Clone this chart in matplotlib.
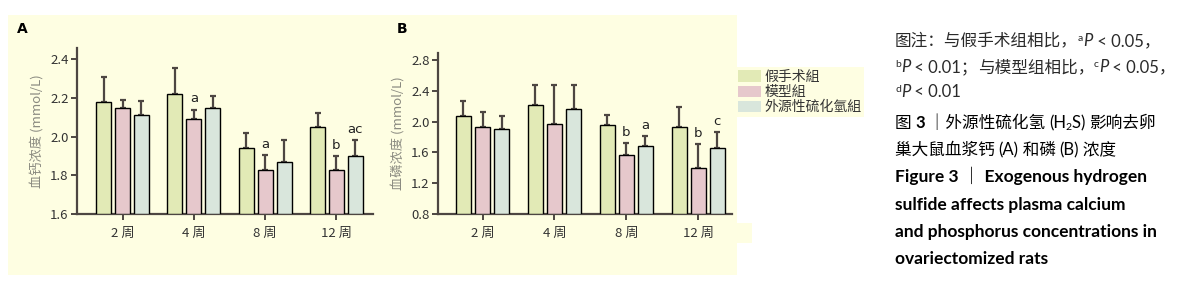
import matplotlib
matplotlib.use('Agg')
import numpy as np
import matplotlib.pyplot as plt
from matplotlib.patches import Rectangle, Patch

plt.rcParams['font.family'] = ['Noto Sans CJK SC', 'DejaVu Sans']

weeks = ['2 周', '4 周', '8 周', '12 周']
groups = ['假手术組', '模型組', '外源性硫化氫組']

# plasma calcium (A), mmol/L
ca_mean = [[2.18, 2.22, 1.94, 2.05],
           [2.15, 2.09, 1.83, 1.83],
           [2.11, 2.15, 1.87, 1.90]]
ca_err = [[0.13, 0.135, 0.08, 0.07],
          [0.04, 0.05, 0.075, 0.07],
          [0.075, 0.06, 0.115, 0.08]]
ca_marks = [['', '', '', ''],
            ['', 'a', 'a', 'b'],
            ['', '', '', 'ac']]

# plasma phosphorus (B), mmol/L
p_mean = [[2.07, 2.22, 1.96, 1.93],
          [1.93, 1.97, 1.57, 1.40],
          [1.90, 2.16, 1.68, 1.66]]
p_err = [[0.20, 0.26, 0.12, 0.26],
         [0.20, 0.51, 0.15, 0.31],
         [0.17, 0.31, 0.13, 0.21]]
p_marks = [['', '', '', ''],
           ['', '', 'b', 'b'],
           ['', '', 'a', 'c']]

BAR_COLORS = ['#e2eab6', '#e6c8cc', '#d9e6dc']
BG = '#fefee2'
AXIS_COLOR = '#4d4642'

W, H = 1192, 300
fig = plt.figure(figsize=(W / 100, H / 100), dpi=100)
fig.patch.set_facecolor('white')

# yellow panel background
fig.add_artist(Rectangle((8 / W, 1 - 275 / H), 729 / W, 260 / H, transform=fig.transFigure,
                         facecolor=BG, edgecolor='none', zorder=0))
fig.add_artist(Rectangle((700 / W, 1 - 243 / H), 52 / W, 20 / H, transform=fig.transFigure,
                         facecolor=BG, edgecolor='none', zorder=0))


def draw_panel(rect, means, errs, marks, ylim, yticks, ylabel, xlim, letter, letter_x):
    ax = fig.add_axes(rect)
    ax.set_facecolor('none')
    x = np.arange(len(weeks))
    width = 0.21
    step = 0.266
    for i in range(3):
        pos = x + (i - 1) * step
        ax.bar(pos, np.array(means[i]) - ylim[0], width, bottom=ylim[0], color=BAR_COLORS[i],
               edgecolor='black', linewidth=1.0, zorder=3)
        ax.errorbar(pos, means[i], yerr=[np.zeros(4), errs[i]], fmt='none', ecolor=AXIS_COLOR,
                    elinewidth=1.6, capsize=2.5, capthick=1.6, zorder=2)
        for j in range(4):
            if marks[i][j]:
                ax.text(pos[j], means[i][j] + errs[i][j] + (ylim[1] - ylim[0]) * 0.025, marks[i][j],
                        ha='center', va='bottom', fontsize=9.5, color='#222222',
                        family=['DejaVu Sans'])
    ax.set_xlim(*xlim)
    ax.set_ylim(*ylim)
    ax.set_yticks(yticks)
    ax.set_yticklabels([f'{v:.1f}' for v in yticks])
    ax.set_xticks(x)
    ax.set_xticklabels(weeks)
    ax.spines['top'].set_visible(False)
    ax.spines['right'].set_visible(False)
    for s in ['left', 'bottom']:
        ax.spines[s].set_color(AXIS_COLOR)
        ax.spines[s].set_linewidth(1.6)
    ax.tick_params(axis='both', colors=AXIS_COLOR, length=4, width=1.4, labelcolor='#333333',
                   labelsize=9.5, pad=2)
    ax.tick_params(axis='x', pad=5)
    ax.set_ylabel(ylabel, fontsize=9.5, color='#8a8a80', labelpad=4)
    fig.text(letter_x / W, 1 - 29 / H, letter, fontsize=10, weight='bold', ha='left', va='center',
             family=['DejaVu Sans'])
    return ax


draw_panel([77 / W, 1 - 214 / H, 296 / W, 166 / H], ca_mean, ca_err, ca_marks,
           (1.6, 2.458), [1.6, 1.8, 2.0, 2.2, 2.4], '血钙浓度 (mmol/L)', (-0.638, 3.512), 'A', 17)
draw_panel([438 / W, 1 - 214 / H, 294 / W, 161 / H], p_mean, p_err, p_marks,
           (0.8, 2.891), [0.8, 1.2, 1.6, 2.0, 2.4, 2.8], '血磷浓度 (mmol/L)', (-0.62, 3.47), 'B', 397)

handles = [Patch(facecolor=c, edgecolor='none') for c in BAR_COLORS]
leg = fig.legend(handles, groups, loc='upper left', bbox_to_anchor=(735 / W, 1 - 67 / H),
                 frameon=True, facecolor=BG, edgecolor='none', fancybox=False, framealpha=1,
                 fontsize=10, handlelength=1.7, handleheight=0.85, handletextpad=0.2,
                 labelspacing=0.08, borderpad=0.2, borderaxespad=0)
for t in leg.get_texts():
    t.set_color('#333333')

# caption on the right
renderer = fig.canvas.get_renderer()
ZH = ['Noto Sans CJK SC', 'DejaVu Sans']
LAT = ['Lato', 'Noto Sans CJK SC', 'DejaVu Sans']
FS = 12


def put_line(x0, y, pieces):
    x = x0 / W
    for text, kw in pieces:
        opts = dict(fontsize=FS, color='#2a2a2a', va='baseline', ha='left', family=ZH)
        opts.update(kw)
        dy = opts.pop('dy', 0)
        t = fig.text(x, 1 - (y - dy) / H, text, **opts)
        x += t.get_window_extent(renderer).width / W


sup = dict(fontsize=7.5, dy=5, family=LAT)
ital = dict(style='italic', family=LAT)
num = dict(family=LAT)
blk = {'color': 'black'}
put_line(895, 46, [('图注：与假手术组相比，', {}), ('a', sup), ('P', ital), (' < 0.05，', num)])
put_line(895, 72, [('b', sup), ('P', ital), (' < 0.01；', num), ('与模型组相比，', {}),
                   ('c', sup), ('P', ital), (' < 0.05，', num)])
put_line(895, 97, [('d', sup), ('P', ital), (' < 0.01', num)])
put_line(895, 128, [('图 ', blk), ('3', dict(family=LAT, weight='bold', color='black')),
                    (' ｜外源性硫化氢 ', blk), ('(H', dict(num, color='black')),
                    ('2', dict(fontsize=7.5, dy=-2, family=LAT, color='black')),
                    ('S) ', dict(num, color='black')), ('影响去卵', blk)])
put_line(895, 155, [('巢大鼠血浆钙 ', blk), ('(A)', dict(num, color='black')),
                    (' 和磷 ', blk), ('(B)', dict(num, color='black')),
                    (' 浓度', blk)])
bold = dict(family=LAT, weight='bold', fontsize=12.5, color='black')
put_line(895, 182, [('Figure 3 ｜ Exogenous hydrogen', bold)])
put_line(895, 210, [('sulfide affects plasma calcium', bold)])
put_line(895, 237, [('and phosphorus concentrations in', bold)])
put_line(895, 264, [('ovariectomized rats', bold)])

fig.savefig('out.png', dpi=100)
